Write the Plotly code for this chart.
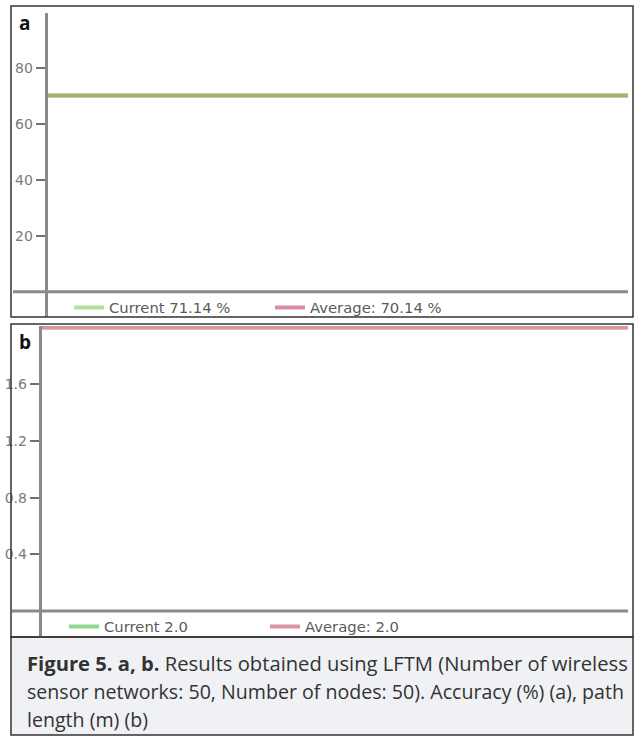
import plotly.graph_objects as go

W, H = 638, 736


def px(x):
    return x / W


def py(y):
    return 1 - y / H


# ---------------- data ----------------
steps = [0, 1, 2, 3, 4, 5, 6, 7, 8, 9, 10, 11]
acc_current = [70.0, 70.0, 70.0, 70.0, 70.0, 70.0, 70.0, 70.0, 70.0, 70.0, 70.0, 70.0]
acc_average = [70.0, 70.0, 70.0, 70.0, 70.0, 70.0, 70.0, 70.0, 70.0, 70.0, 70.0, 70.0]
len_current = [2.0, 2.0, 2.0, 2.0, 2.0, 2.0, 2.0, 2.0, 2.0, 2.0, 2.0, 2.0]
len_average = [2.0, 2.0, 2.0, 2.0, 2.0, 2.0, 2.0, 2.0, 2.0, 2.0, 2.0, 2.0]
acc_ticks = [20, 40, 60, 80]
len_ticks = [0.4, 0.8, 1.2, 1.6]
len_tick_text = ["0.4", "0.8", "1.2", "1.6"]
acc_current_label = "Current 71.14 %"
acc_average_label = "Average: 70.14 %"
len_current_label = "Current 2.0"
len_average_label = "Average: 2.0"
caption_lines = [
    "<b>Figure 5. a, b.</b> Results obtained using LFTM (Number of wireless",
    "sensor networks: 50, Number of nodes: 50). Accuracy (%) (a), path",
    "length (m) (b)",
]
caption_sizes = [20.2, 19.6, 19.6]

TICK_FONT = dict(family="DejaVu Sans", size=14, color="#7a7a7a")
LEG_FONT = dict(family="DejaVu Sans", size=14.8, color="#5a5a5a")
AXIS_GREY = "#8a8a8a"

fig = go.Figure()

# panel a (average underneath, current on top with some transparency)
fig.add_trace(go.Scatter(x=steps, y=acc_average, mode="lines", name=acc_average_label,
                         line=dict(color="#d98f9f", width=4), legendrank=2,
                         xaxis="x", yaxis="y", legend="legend"))
fig.add_trace(go.Scatter(x=steps, y=acc_current, mode="lines", name=acc_current_label,
                         line=dict(color="#82cd4d", width=4), opacity=0.6, legendrank=1,
                         xaxis="x", yaxis="y", legend="legend"))
# panel b
fig.add_trace(go.Scatter(x=steps, y=len_current, mode="lines", name=len_current_label,
                         line=dict(color="#8fd98f", width=4), legendrank=1,
                         xaxis="x2", yaxis="y2", legend="legend2"))
fig.add_trace(go.Scatter(x=steps, y=len_average, mode="lines", name=len_average_label,
                         line=dict(color="#dc94a4", width=4), legendrank=2,
                         xaxis="x2", yaxis="y2", legend="legend2"))

hidden_x = dict(showline=False, showticklabels=False, showgrid=False, zeroline=False,
                ticks="", fixedrange=True)

y_common = dict(showline=True, linecolor=AXIS_GREY, linewidth=2.5, showgrid=False,
                zeroline=False, ticks="outside", ticklen=9, tickwidth=1.5,
                tickcolor="#707070", tickfont=TICK_FONT, fixedrange=True)

fig.update_layout(
    width=W, height=H,
    margin=dict(l=0, r=0, t=0, b=0),
    paper_bgcolor="white", plot_bgcolor="white",
    showlegend=True,
    xaxis=dict(domain=[px(47.5), px(628)], range=[0, 11], anchor="y", **hidden_x),
    yaxis=dict(domain=[py(317), py(13)], range=[-9.04, 99.5], anchor="x",
               tickvals=acc_ticks, **y_common),
    yaxis3=dict(overlaying="y", anchor="x", range=[-9.04, 99.5], tickvals=acc_ticks,
                showticklabels=False, showline=False, showgrid=False, zeroline=False,
                ticks="inside", ticklen=6, tickwidth=1.5, tickcolor="#707070",
                fixedrange=True),
    xaxis2=dict(domain=[px(41.5), px(628)], range=[0, 11], anchor="y2", **hidden_x),
    yaxis2=dict(domain=[py(637), py(326)], range=[-0.183, 2.011], anchor="x2",
                tickvals=len_ticks, ticktext=len_tick_text, **y_common),
    yaxis4=dict(overlaying="y2", anchor="x2", range=[-0.183, 2.011], tickvals=len_ticks,
                showticklabels=False, showline=False, showgrid=False, zeroline=False,
                ticks="inside", ticklen=6, tickwidth=1.5, tickcolor="#707070",
                fixedrange=True),
    legend=dict(orientation="h", x=px(69), y=py(308), xanchor="left", yanchor="middle",
                font=LEG_FONT, bgcolor="rgba(0,0,0,0)", entrywidth=156,
                entrywidthmode="pixels", itemwidth=30),
    legend2=dict(orientation="h", x=px(64), y=py(627), xanchor="left", yanchor="middle",
                 font=LEG_FONT, bgcolor="rgba(0,0,0,0)", entrywidth=156,
                 entrywidthmode="pixels", itemwidth=30),
)

shapes = []
# baselines (y = 0)
shapes.append(dict(type="line", xref="paper", yref="y", x0=px(13), x1=px(628), y0=0, y1=0,
                   line=dict(color=AXIS_GREY, width=3)))
shapes.append(dict(type="line", xref="paper", yref="y2", x0=px(12), x1=px(628), y0=0, y1=0,
                   line=dict(color=AXIS_GREY, width=3)))
# caption box
shapes.append(dict(type="rect", xref="paper", yref="paper", x0=px(11), x1=px(633),
                   y0=py(735), y1=py(637), fillcolor="#f0f1f4",
                   line=dict(color="#333333", width=1.5), layer="below"))
# panel frames
shapes.append(dict(type="rect", xref="paper", yref="paper", x0=px(11), x1=px(633),
                   y0=py(317), y1=py(6), line=dict(color="#333333", width=1.5)))
shapes.append(dict(type="rect", xref="paper", yref="paper", x0=px(11), x1=px(633),
                   y0=py(637), y1=py(324), line=dict(color="#333333", width=1.5)))
fig.update_layout(shapes=shapes)

annotations = [
    dict(text="<b>a</b>", x=px(17), y=py(23), xref="paper", yref="paper",
         xanchor="left", yanchor="middle", showarrow=False,
         font=dict(family="Open Sans", size=19, color="#111111")),
    dict(text="<b>b</b>", x=px(17), y=py(342), xref="paper", yref="paper",
         xanchor="left", yanchor="middle", showarrow=False,
         font=dict(family="Open Sans", size=19, color="#111111")),
]
for i, line in enumerate(caption_lines):
    annotations.append(dict(text=line, x=px(25), y=py(663 + 28 * i), xref="paper",
                            yref="paper", xanchor="left", yanchor="middle",
                            showarrow=False,
                            font=dict(family="Open Sans", size=caption_sizes[i],
                                      color="#333333")))
fig.update_layout(annotations=annotations)

fig.write_html("out.html",
               config={"displayModeBar": False},
               post_script="document.body.style.margin='0';"
                           "document.body.style.overflow='hidden';")
